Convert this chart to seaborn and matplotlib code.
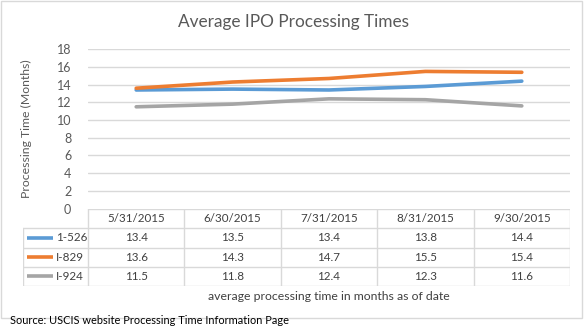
import matplotlib
matplotlib.use("Agg")
import matplotlib.pyplot as plt
from matplotlib.patches import Rectangle
import pandas as pd
import seaborn as sns

# Processing times (months) by report date
dates = ["5/31/2015", "6/30/2015", "7/31/2015", "8/31/2015", "9/30/2015"]
forms = ["1-526", "I-829", "I-924"]
i526 = [13.4, 13.5, 13.4, 13.8, 14.4]
i829 = [13.6, 14.3, 14.7, 15.5, 15.4]
i924 = [11.5, 11.8, 12.4, 12.3, 11.6]
yticks = [0, 2, 4, 6, 8, 10, 12, 14, 16, 18]
colors = ["#5B9BD5", "#ED7D31", "#A5A5A5"]

series = [i526, i829, i924]
df = pd.DataFrame({
    "date": [d for _ in forms for d in dates],
    "idx": [i for _ in forms for i in range(len(dates))],
    "form": [f for f in forms for _ in dates],
    "months": [v for s in series for v in s],
})

sns.set_theme(style="white")
plt.rcParams["font.family"] = ["Lato", "DejaVu Sans"]

W, H = 586, 330
fig = plt.figure(figsize=(W / 100, H / 100), dpi=100)
fig.patch.set_facecolor("white")

def fx(px):
    return px / W

def fy(py):
    return 1 - py / H

grid_c = "#D9D9D9"
text_c = "#595959"
cell_c = "#404040"
fs = 8.4

# chart frame
fig.add_artist(Rectangle((fx(1), fy(318)), fx(581), 317 / H, transform=fig.transFigure,
                         fill=False, edgecolor=grid_c, linewidth=1))

# plot area
x0, x1 = 88, 570
ytop, ybot = 49.3, 208.5
ax = fig.add_axes([fx(x0), fy(ybot), fx(x1 - x0), (ybot - ytop) / H])
sns.lineplot(data=df, x="idx", y="months", hue="form", palette=colors,
             linewidth=2.6, legend=False, ax=ax)
ax.set_xlim(-0.5, len(dates) - 0.5)
ax.set_ylim(0, 18)
ax.set_yticks(yticks)
ax.set_yticklabels([str(t) for t in yticks], color=text_c, fontsize=9)
ax.set_xticks([])
ax.set_xlabel("")
ax.set_ylabel("Processing Time (Months)", color=text_c, fontsize=8.8)
ax.yaxis.set_label_coords((32 - x0) / (x1 - x0), 0.5)
ax.tick_params(axis="y", length=0, pad=12)
for sp in ax.spines.values():
    sp.set_visible(False)
for t in yticks[1:]:
    ax.axhline(t, color=grid_c, linewidth=1, zorder=0)
ax.set_facecolor("none")

# data table below the plot
tl, tt, tb = 23, 209, 286
lead = (x0 - tl) / ((x1 - x0) / len(dates))
tax = fig.add_axes([fx(tl), fy(tb), fx(x1 - tl), (tb - tt) / H])
tax.set_xlim(-0.5 - lead, len(dates) - 0.5)
nrows = len(forms) + 1
tax.set_ylim(nrows, 0)
tax.axis("off")
lw = 1
# horizontal rules
tax.plot([-0.5, len(dates) - 0.5], [0, 0], color=grid_c, lw=lw)
for r in range(1, nrows + 1):
    tax.plot([-0.5 - lead, len(dates) - 0.5], [r, r], color=grid_c, lw=lw)
# vertical rules
tax.plot([-0.5 - lead] * 2, [1, nrows], color=grid_c, lw=lw)
for c in range(len(dates) + 1):
    tax.plot([c - 0.5] * 2, [0, nrows], color=grid_c, lw=lw)
for c, d in enumerate(dates):
    tax.text(c, 0.5, d, ha="center", va="center", fontsize=fs, color=cell_c)
for r, (f, s, col) in enumerate(zip(forms, series, colors), start=1):
    tax.plot([-0.5 - lead + 0.04, -0.5 - lead + 0.31], [r + 0.5] * 2, color=col, lw=2.6,
             solid_capstyle="butt")
    tax.text(-0.5 - lead + 0.34, r + 0.5, f, ha="left", va="center", fontsize=fs, color=cell_c)
    for c, v in enumerate(s):
        tax.text(c, r + 0.5, f"{v:.1f}", ha="center", va="center", fontsize=fs, color=cell_c)

fig.text(fx(329), fy(297), "average processing time in months as of date",
         ha="center", va="center", fontsize=8.8, color=cell_c)
fig.text(fx(293), fy(22), "Average IPO Processing Times", ha="center", va="center",
         fontsize=12.4, color=text_c)
fig.text(fx(10), fy(321), "Source: USCIS website Processing Time Information Page",
         ha="left", va="center", fontsize=7.9, color="#000000")

fig.savefig("out.png", dpi=100)
